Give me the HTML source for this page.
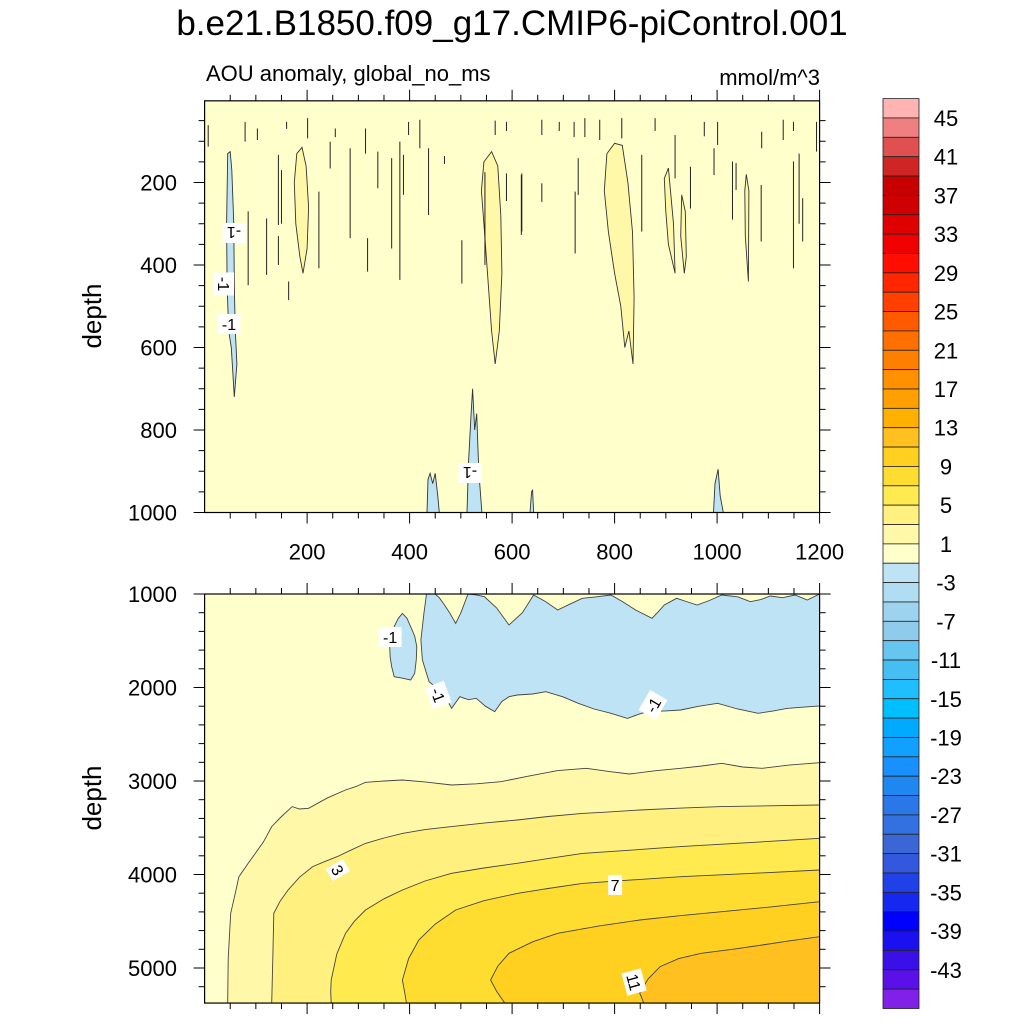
<!DOCTYPE html>
<html><head><meta charset="utf-8"><title>AOU anomaly</title>
<style>
html,body{margin:0;padding:0;background:#fff;}
svg{display:block;font-family:"Liberation Sans",Arial,sans-serif;}
</style></head>
<body>
<svg id="chart" width="1024" height="1024" viewBox="0 0 1024 1024" xmlns="http://www.w3.org/2000/svg">
<rect x="0" y="0" width="1024" height="1024" fill="#fff"/>
<text x="512" y="35" font-size="35" text-anchor="middle" fill="#000">b.e21.B1850.f09_g17.CMIP6-piControl.001</text>
<text x="206" y="81" font-size="22" fill="#000">AOU anomaly, global_no_ms</text>
<text x="820" y="85" font-size="22" text-anchor="end" fill="#000">mmol/m^3</text>
<text x="101" y="316" font-size="26" text-anchor="middle" transform="rotate(-90 101 316)" fill="#000">depth</text>
<text x="101" y="798" font-size="26" text-anchor="middle" transform="rotate(-90 101 798)" fill="#000">depth</text>
<defs>
<clipPath id="clipU"><rect x="204.6" y="101" width="615.4" height="411.5"/></clipPath>
<clipPath id="clipL"><rect x="204.6" y="594" width="615.4" height="409"/></clipPath>
</defs>
<g id="upper"></g>
<g id="lower"></g>
<g id="cbar"></g>
</svg>
<script>
// ---- data ----
const cbarLevels = [45,43,41,39,37,35,33,31,29,27,25,23,21,19,17,15,13,11,9,7,5,3,1,-1,-3,-5,-7,-9,-11,-13,-15,-17,-19,-21,-23,-25,-27,-29,-31,-33,-35,-37,-39,-41,-43,-45];
const cbarColors = ["#FFB3B3","#F08080","#E05050","#D02525","#C80000","#D00000","#E00000","#F00000","#FF0D00","#FF2600","#FF4000","#FF5A00","#FF7000","#FF8000","#FF9000","#FFA000","#FFB000","#FFC020","#FFD020","#FFDD30","#FFEA50","#FFF080","#FFF8A8","#FFFFCC","#BEE3F5","#B0DDF2","#9DD3EE","#8FCCEB","#66C6F0","#45BFF2","#1FBFFF","#00BFFF","#00AAFF","#12A0FF","#1890FF","#1E88F0","#2A78E8","#3370E0","#3A66D6","#3358DD","#2040E8","#1428F0","#0000FF","#1A10F0","#3A10E8","#5A10E8","#8020E8"];
const cbarLabels = [45,41,37,33,29,25,21,17,13,9,5,1,-3,-7,-11,-15,-19,-23,-27,-31,-35,-39,-43];
const upperYTicks = [200,400,600,800,1000];
const lowerYTicks = [1000,2000,3000,4000,5000];
const xTicks = [200,400,600,800,1000,1200];

// lower panel contour levels (x, depth) pairs
const lowLevels = [1,3,5,7,9,11];
const lowCont1 = [[45,5378],[46,4900],[51,4415],[60,4200],[67,4023],[85,3880],[99,3774],[115,3650],[131,3488],[150,3380],[171,3274],[185,3300],[203,3292],[240,3180],[275,3096],[295,3060],[314,3014],[350,3000],[386,2989],[430,3010],[482,3043],[530,3030],[578,3007],[630,2950],[689,2889],[745,2864],[790,2900],[829,2925],[880,2890],[929,2864],[970,2840],[1009,2811],[1050,2850],[1088,2864],[1140,2830],[1200,2804]];
const lowCont3 = [[131,5378],[133,4900],[135,4415],[148,4280],[163,4166],[185,4030],[211,3916],[235,3860],[259,3809],[285,3740],[314,3667],[350,3610],[386,3560],[430,3520],[482,3488],[545,3450],[610,3417],[670,3380],[737,3346],[790,3330],[849,3310],[930,3290],[1009,3274],[1100,3265],[1200,3257]];
const lowCont5 = [[247,5378],[246,5250],[247,5128],[258,4850],[275,4629],[292,4500],[314,4380],[350,4260],[386,4166],[430,4070],[482,3987],[545,3930],[610,3880],[670,3830],[737,3774],[830,3740],[929,3702],[1060,3660],[1200,3613]];
const lowCont7 = [[394,5378],[390,5250],[386,5128],[398,4900],[418,4700],[450,4530],[490,4380],[545,4280],[610,4202],[670,4150],[737,4095],[830,4060],[929,4023],[1060,3990],[1200,3952]];
const lowCont9 = [[586,5378],[570,5250],[558,5128],[572,4980],[594,4843],[640,4720],[689,4629],[770,4550],[849,4487],[930,4440],[1009,4398],[1100,4350],[1200,4291]];
const lowCont11 = [[857,5378],[853,5320],[849,5271],[865,5120],[889,4985],[925,4900],[969,4843],[1030,4800],[1088,4754],[1140,4710],[1200,4665]];
const lowBlueMain = [[433,1000],[428,1207],[422,1492],[425,1706],[438,1938],[466,2062],[482,2223],[498,2098],[515,2130],[530,2116],[548,2200],[566,2258],[580,2150],[594,2098],[610,2080],[640,2070],[666,2045],[700,2100],[729,2169],[760,2230],[793,2276],[825,2330],[845,2290],[865,2258],[900,2250],[929,2241],[965,2200],[1001,2169],[1040,2230],[1080,2276],[1110,2250],[1136,2223],[1170,2210],[1200,2198],[1200,1000],[1176,1064],[1152,1011],[1128,1040],[1104,1021],[1085,1060],[1065,1082],[1040,1030],[1009,1011],[985,1070],[961,1118],[940,1080],[921,1046],[897,1118],[885,1190],[873,1260],[855,1210],[841,1171],[815,1080],[793,1011],[765,1030],[737,1046],[712,1110],[689,1171],[665,1080],[642,1011],[620,1200],[594,1332],[570,1150],[546,1029],[530,1010],[514,1000],[500,1200],[490,1314],[478,1200],[466,1100],[458,1040],[450,1000]];
const lowBlueLobe = [[386,1207],[395,1260],[402,1349],[410,1450],[414,1563],[413,1700],[410,1848],[402,1920],[385,1900],[370,1884],[365,1780],[362,1670],[361,1528],[366,1420],[370,1349],[378,1260]];

// upper panel features
const upBlue = [[[45,130],[50,125],[53,170],[57,300],[58,450],[60,560],[63,640],[58,720],[52,600],[47,560],[44,450],[43,300]],
  [[434,1000],[436,920],[440,905],[445,930],[450,905],[455,960],[458,1000]],
  [[512,1000],[515,880],[520,760],[523,700],[527,800],[531,760],[535,900],[541,1000]],
  [[635,1000],[638,950],[640,945],[642,1000]],
  [[993,1000],[996,930],[1002,895],[1006,960],[1012,1000]]];
const upYellow = [[[180,130],[190,115],[198,160],[203,260],[200,360],[192,420],[186,380],[178,300],[175,200]],
  [[545,150],[560,125],[572,160],[578,280],[580,420],[575,560],[567,640],[560,560],[552,420],[545,300],[540,220]],
  [[785,130],[800,105],[815,110],[826,200],[835,320],[838,480],[836,640],[828,560],[820,600],[812,500],[800,420],[788,320],[780,220]],
  [[897,190],[905,165],[915,300],[918,420],[905,350],[900,270]],
  [[931,230],[938,270],[940,380],[936,420],[929,330]],
  [[1057,180],[1062,220],[1061,440],[1055,330],[1054,220]]];
const upSpecks = [[7,61,113],[79,53,101],[103,69,97],[160,53,70],[201,44,93],[144,133,303],[150,170,300],[121,287,424],[144,330,400],[164,440,485],[85,270,449],[223,222,408],[245,101,166],[255,69,90],[284,117,335],[314,69,130],[318,335,416],[338,125,214],[365,141,360],[381,101,436],[388,133,230],[398,53,85],[420,48,117],[437,117,279],[468,136,155],[502,340,445],[547,175,400],[589,53,75],[589,178,245],[618,182,327],[567,50,85],[658,48,85],[692,53,75],[721,53,90],[742,44,90],[771,48,97],[814,44,93],[879,44,75],[975,53,88],[1001,53,109],[1087,77,117],[1129,48,97],[1149,53,75],[1194,53,125],[619,178,319],[658,202,247],[723,222,372],[729,141,230],[853,133,319],[918,85,190],[948,162,263],[994,117,182],[1030,149,290],[1037,153,218],[1086,206,343],[1149,149,408],[1167,238,343],[1160,130,300]];

// ---- scales ----
const NS = "http://www.w3.org/2000/svg";
const xS = v => 204.6 + v * 0.5125;
const yU = d => 100 + d * 0.4125;
const yL = d => 594 + (d - 1000) * 0.0935;
function mk(tag, attrs, parent) {
  const e = document.createElementNS(NS, tag);
  for (const k in attrs) e.setAttribute(k, attrs[k]);
  parent.appendChild(e);
  return e;
}
function colorFor(v) {
  let i = 0;
  while (i < cbarLevels.length && v < cbarLevels[i]) i++;
  return cbarColors[i];
}
const ptsStr = (arr, yf) => arr.map(p => xS(p[0]).toFixed(1) + "," + yf(p[1]).toFixed(1)).join(" ");

// ---- upper panel ----
const up = document.getElementById("upper");
const upC = mk("g", {"clip-path": "url(#clipU)"}, up);
const upBg = mk("rect", {x: xS(0), y: yU(2), width: xS(1200) - xS(0), height: yU(1000) - yU(2), fill: colorFor(0)}, upC);


upYellow.forEach((poly) => {
  const p = mk("polygon", {points: ptsStr(poly, yU), fill: colorFor(2), stroke: "#333", "stroke-width": 0.9}, upC);
  
  
});
upBlue.forEach((poly) => {
  const p = mk("polygon", {points: ptsStr(poly, yU), fill: colorFor(-2), stroke: "#333", "stroke-width": 0.9}, upC);
  
  
});
upSpecks.forEach((s) => {
  const l = mk("line", {x1: xS(s[0]), x2: xS(s[0]), y1: yU(s[1]), y2: yU(s[2]), stroke: "#222", "stroke-width": 1}, upC);
  
  
});

// ---- lower panel ----
const lo = document.getElementById("lower");
const loC = mk("g", {"clip-path": "url(#clipL)"}, lo);
const loBg = mk("rect", {x: xS(0), y: yL(1000), width: xS(1200) - xS(0), height: yL(5380) - yL(1000), fill: colorFor(0)}, loC);


const conts = [lowCont1, lowCont3, lowCont5, lowCont7, lowCont9, lowCont11];
conts.forEach((c, i) => {
  const poly = c.concat([[1200, 5400], [c[0][0], 5400]]);
  const f = mk("polygon", {points: ptsStr(poly, yL), fill: colorFor(lowLevels[i] + 1), stroke: "none"}, loC);
  
  
  const l = mk("polyline", {points: ptsStr(c, yL), fill: "none", stroke: "#444", "stroke-width": 0.9}, loC);
  
  
});
[lowBlueMain, lowBlueLobe].forEach((poly) => {
  const p = mk("polygon", {points: ptsStr(poly, yL), fill: colorFor(-2), stroke: "#444", "stroke-width": 0.9}, loC);
  
  
});

// contour labels
function clabel(parent, x, y, txt, rot) {
  const g = mk("g", {transform: "translate(" + x + "," + y + ") rotate(" + rot + ")"}, parent);
  
  
  const w = txt.length * 9 + 5;
  mk("rect", {x: -w / 2, y: -10, width: w, height: 20, fill: "#fff"}, g);
  const t = mk("text", {x: 0, y: 6, "font-size": 16, "text-anchor": "middle", fill: "#000"}, g);
  t.textContent = txt;
}
clabel(up, 234, 233, "-1", 180);
clabel(up, 224, 284, "-1", 90);
clabel(up, 229, 324, "-1", 0);
clabel(up, 470, 473, "-1", 180);
clabel(lo, xS(362), yL(1460), "-1", 0);
clabel(lo, xS(456), yL(2080), "-1", 70);
clabel(lo, xS(875), yL(2187), "-1", -60);
clabel(lo, xS(260), yL(3952), "3", 60);
clabel(lo, xS(801), yL(4112), "7", 0);
clabel(lo, xS(838), yL(5150), "11", 75);

// ---- axes ----
function frame(parent, top, bot, name) {
  const r = mk("rect", {x: xS(0), y: top, width: xS(1200) - xS(0), height: bot - top, fill: "none", stroke: "#000", "stroke-width": 1.2}, parent);
  
  
}
function xTickMarks(parent, top, bot, labels) {
  for (let v = 50; v <= 1200; v += 50) {
    const major = v % 200 === 0;
    const len = major ? 11 : 6;
    const X = xS(v);
    mk("line", {x1: X, x2: X, y1: bot, y2: bot + len, stroke: "#000", "stroke-width": 1}, parent);
    mk("line", {x1: X, x2: X, y1: top, y2: top - len, stroke: "#000", "stroke-width": 1}, parent);
  }
  if (labels) xTicks.forEach(v => {
    const t = mk("text", {x: xS(v), y: bot + 47, "font-size": 22, "text-anchor": "middle", fill: "#000"}, parent);
    
    
    t.textContent = v;
  });
}
function yTickMarks(parent, yf, from, to, step, majors) {
  for (let d = from; d <= to; d += step) {
    const major = majors.includes(d);
    const len = major ? 11 : 6;
    const Y = yf(d);
    mk("line", {x1: xS(0), x2: xS(0) - len, y1: Y, y2: Y, stroke: "#000", "stroke-width": 1}, parent);
    mk("line", {x1: xS(1200), x2: xS(1200) + len, y1: Y, y2: Y, stroke: "#000", "stroke-width": 1}, parent);
  }
  majors.forEach(d => {
    const t = mk("text", {x: 177, y: yf(d) + 8, "font-size": 22, "text-anchor": "end", fill: "#000"}, parent);
    
    
    t.textContent = d;
  });
}
frame(up, yU(2), yU(1000), "upper-plot-frame");
xTickMarks(up, yU(2), yU(1000), true);
yTickMarks(up, yU, 50, 1000, 50, upperYTicks);
frame(lo, yL(1000), yL(5375), "lower-plot-frame");
xTickMarks(lo, yL(1000), yL(5375), false);
yTickMarks(lo, yL, 1000, 5200, 200, lowerYTicks);

// ---- colorbar ----
const cb = document.getElementById("cbar");
const cbTop = 98.6, boxH = 19.36, cbX = 883, cbW = 36;
cbarColors.forEach((c, i) => {
  const r = mk("rect", {x: cbX, y: cbTop + i * boxH, width: cbW, height: boxH, fill: c, stroke: "#222", "stroke-width": 0.8}, cb);
  
  
});
cbarLabels.forEach(v => {
  const i = cbarLevels.indexOf(v);
  const t = mk("text", {x: 946, y: cbTop + (i + 1) * boxH + 8, "font-size": 22, "text-anchor": "middle", fill: "#000"}, cb);
  
  
  t.textContent = v;
});
</script>
</body></html>
